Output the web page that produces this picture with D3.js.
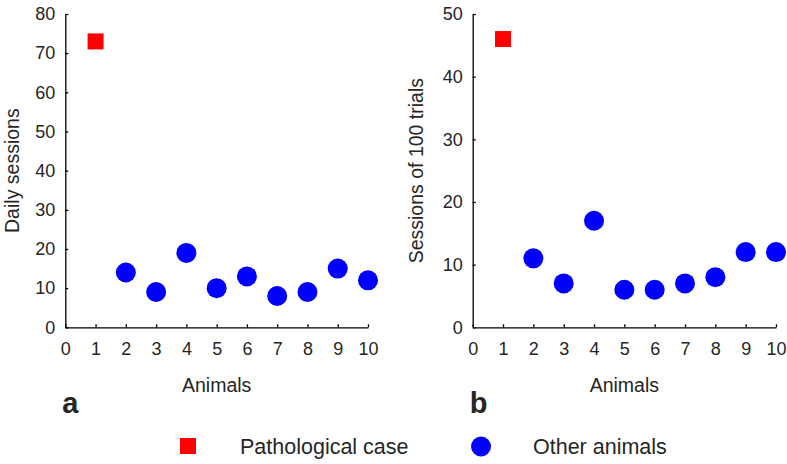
<!DOCTYPE html>
<html>
<head>
<meta charset="utf-8">
<script src="https://cdn.jsdelivr.net/npm/d3@7"></script>
<style>
  body { margin: 0; background: #fff; }
  text { font-family: "Liberation Sans", Arial, Helvetica, sans-serif; fill: #262626; }
</style>
</head>
<body>
<script>
'use strict';

// animals 1..10, animal 1 is the pathological case
let animals = [1, 2, 3, 4, 5, 6, 7, 8, 9, 10];
let dailySessions = [73, 14, 9, 19, 10, 13, 8, 9, 15, 12];
let trialSessions = [46, 11, 7, 17, 6, 6, 7, 8, 12, 12];
let xTicks = [0, 1, 2, 3, 4, 5, 6, 7, 8, 9, 10];
let yTicksA = [0, 10, 20, 30, 40, 50, 60, 70, 80];
let yTicksB = [0, 10, 20, 30, 40, 50];
let legendLabels = ['Pathological case', 'Other animals'];

let width = 787;
let height = 464;

let svg = d3.select('body')
    .append('svg')
    .attr('width', width)
    .attr('height', height);

function makePanel(left, right, values, yMax, yTicks, yLabel, yLabelX, letter) {
    let top = 14, bottom = 327.3;

    let xScale = d3.scaleLinear().domain([0, 10]).range([left, right]);
    let yScale = d3.scaleLinear().domain([0, yMax]).range([bottom, top]);

    let xAxis = d3.axisBottom(xScale)
        .tickValues(xTicks)
        .tickSizeInner(-3)
        .tickSizeOuter(0)
        .tickPadding(15);
    let gx = svg.append('g')
        .attr('transform', 'translate(0,' + bottom + ')')
        .call(xAxis);

    let yAxis = d3.axisLeft(yScale)
        .tickValues(yTicks)
        .tickSizeInner(-3)
        .tickSizeOuter(0)
        .tickPadding(10);
    let gy = svg.append('g')
        .attr('transform', 'translate(' + left + ',0)')
        .call(yAxis);

    [gx, gy].forEach((g) => {
        g.select('.domain').attr('stroke', '#000').attr('stroke-width', 1.3);
        g.selectAll('.tick line').attr('stroke', '#000').attr('stroke-width', 1.3);
        g.selectAll('.tick text')
            .style('font-size', '18px')
            .style('font-family', '"Liberation Sans", Arial, sans-serif')
            .attr('fill', '#262626');
    });

    let points = animals.map((a, i) => ({ x: a, y: values[i] }));

    svg.selectAll(null)
        .data(points.slice(1))
        .enter()
        .append('circle')
        .attr('cx', (d) => xScale(d.x))
        .attr('cy', (d) => yScale(d.y))
        .attr('r', 10)
        .attr('fill', '#0000ff');

    svg.selectAll(null)
        .data(points.slice(0, 1))
        .enter()
        .append('rect')
        .attr('x', (d) => xScale(d.x) - 8)
        .attr('y', (d) => yScale(d.y) - 8)
        .attr('width', 16)
        .attr('height', 16)
        .attr('fill', '#ff0000');

    svg.append('text')
        .attr('x', (left + right) / 2)
        .attr('y', 391.5)
        .attr('text-anchor', 'middle')
        .style('font-size', '19.5px')
        .text('Animals');

    svg.append('text')
        .attr('transform', 'translate(' + yLabelX + ',' + (top + bottom) / 2 + ')rotate(-90)')
        .attr('text-anchor', 'middle')
        .attr('dy', '0.35em')
        .style('font-size', '19.5px')
        .text(yLabel);

    svg.append('text')
        .attr('x', left - 3)
        .attr('y', 412.5)
        .style('font-size', '29px')
        .style('font-weight', 'bold')
        .text(letter);
}

makePanel(65.3, 368, dailySessions, 80, yTicksA, 'Daily sessions', 12.5, 'a');
makePanel(472.7, 776, trialSessions, 50, yTicksB, 'Sessions of 100 trials', 416.5, 'b');

// legend
let legend = svg.append('g');
legend.append('rect')
    .attr('x', 180).attr('y', 438)
    .attr('width', 16).attr('height', 16)
    .attr('fill', '#ff0000');
legend.append('text')
    .attr('x', 240).attr('y', 454)
    .style('font-size', '21.5px')
    .text(legendLabels[0]);
legend.append('circle')
    .attr('cx', 481).attr('cy', 446.5)
    .attr('r', 10)
    .attr('fill', '#0000ff');
legend.append('text')
    .attr('x', 533).attr('y', 454)
    .style('font-size', '21.5px')
    .text(legendLabels[1]);
</script>
</body>
</html>
